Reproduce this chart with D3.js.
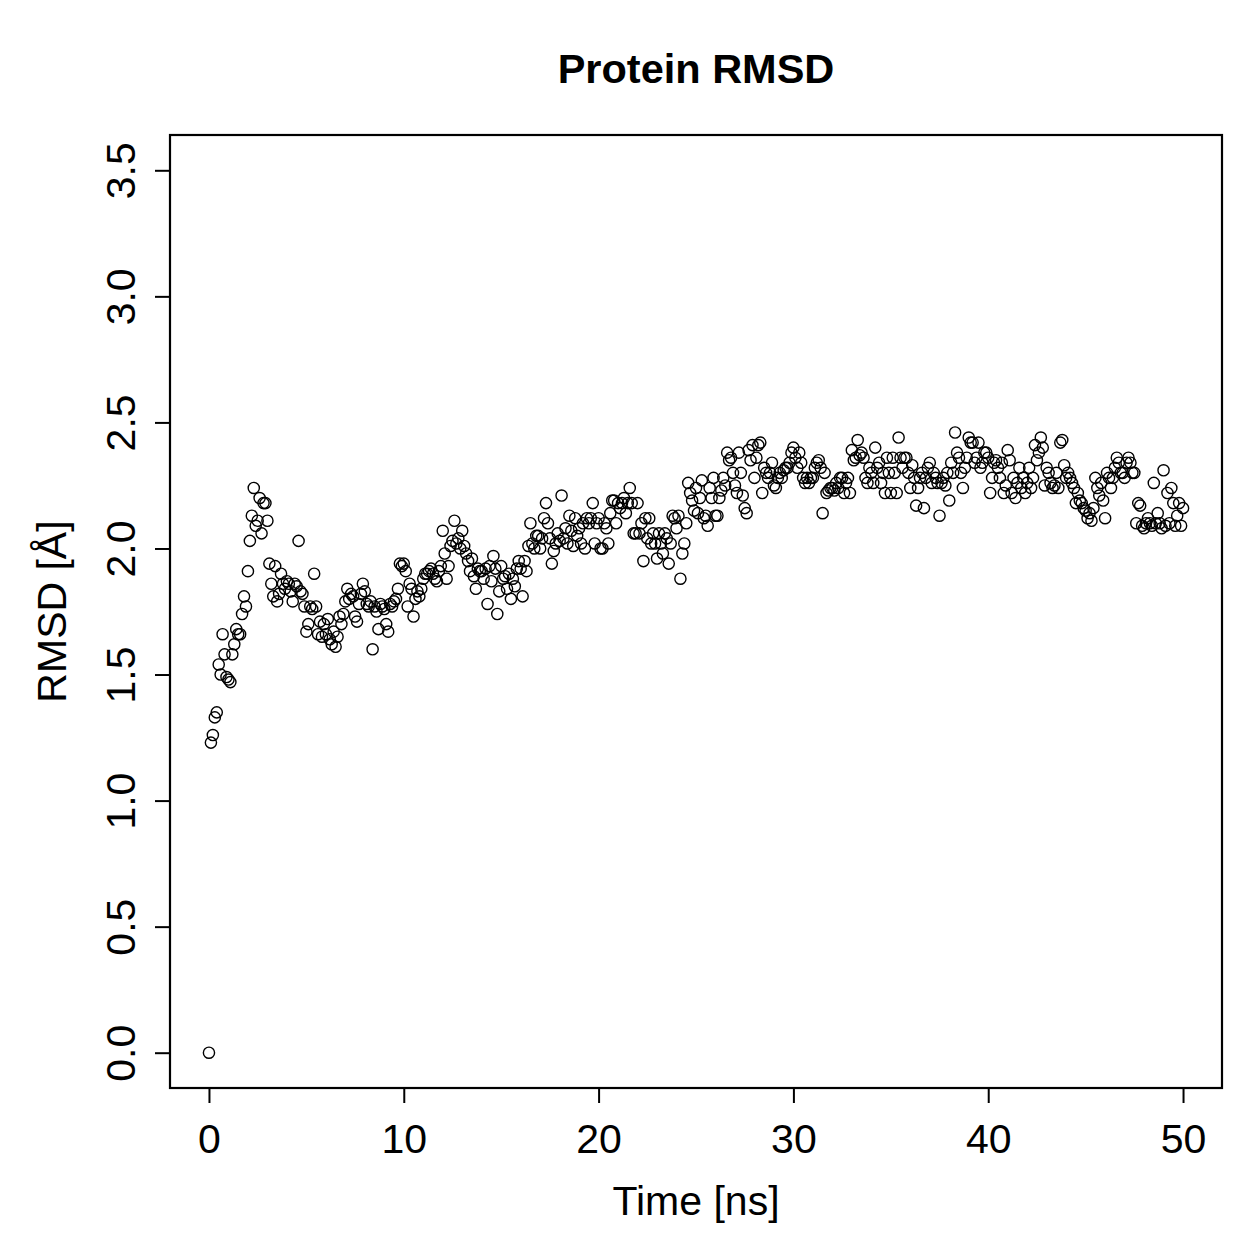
<!DOCTYPE html>
<html>
<head>
<meta charset="utf-8">
<script src="https://cdn.jsdelivr.net/npm/d3@7"></script>
<style>
  html, body { margin: 0; padding: 0; background: #ffffff; }
  svg { display: block; font-family: "Liberation Sans", Arial, Helvetica, sans-serif; }
</style>
</head>
<body>
<svg id="chart" width="1259" height="1259"></svg>
<script>
// ---- data ----
const chartTitle = "Protein RMSD";
const xLabel = "Time [ns]";
const yLabel = "RMSD [Å]";
const timeStart = 0;      // ns
const timeStep = 0.1;     // ns between frames
const xTicks = [0, 10, 20, 30, 40, 50];
const yTicks = [0.0, 0.5, 1.0, 1.5, 2.0, 2.5, 3.0, 3.5];
const yTickLabels = ["0.0", "0.5", "1.0", "1.5", "2.0", "2.5", "3.0", "3.5"];
const rmsd = [
  0.00, 1.23, 1.26, 1.33, 1.35, 1.54, 1.50, 1.66, 1.58, 1.49,
  1.48, 1.47, 1.58, 1.62, 1.68, 1.66, 1.66, 1.74, 1.81, 1.77,
  1.91, 2.03, 2.13, 2.24, 2.09, 2.11, 2.20, 2.06, 2.18, 2.18,
  2.11, 1.94, 1.86, 1.81, 1.93, 1.79, 1.82, 1.90, 1.86, 1.84,
  1.87, 1.86, 1.83, 1.79, 1.86, 1.85, 2.03, 1.83, 1.82, 1.77,
  1.67, 1.70, 1.77, 1.76, 1.90, 1.77, 1.66, 1.71, 1.65, 1.70,
  1.66, 1.72, 1.64, 1.62, 1.67, 1.61, 1.65, 1.73, 1.70, 1.74,
  1.79, 1.84, 1.80, 1.82, 1.81, 1.73, 1.71, 1.78, 1.82, 1.86,
  1.83, 1.78, 1.77, 1.79, 1.60, 1.77, 1.75, 1.68, 1.78, 1.77,
  1.76, 1.70, 1.67, 1.78, 1.77, 1.79, 1.80, 1.84, 1.94, 1.93,
  1.94, 1.91, 1.77, 1.86, 1.84, 1.73, 1.80, 1.83, 1.81, 1.84,
  1.88, 1.90, 1.90, 1.91, 1.92, 1.90, 1.88, 1.87, 1.91, 1.93,
  2.07, 1.98, 1.88, 1.93, 2.01, 2.03, 2.11, 2.02, 2.04, 2.00,
  2.07, 2.01, 1.98, 1.95, 1.91, 1.96, 1.89, 1.84, 1.92, 1.91,
  1.91, 1.88, 1.92, 1.78, 1.93, 1.87, 1.97, 1.92, 1.74, 1.83,
  1.93, 1.88, 1.89, 1.84, 1.90, 1.80, 1.88, 1.85, 1.92, 1.95,
  1.92, 1.81, 1.95, 1.91, 2.01, 2.10, 2.02, 2.00, 2.05, 2.05,
  2.00, 2.04, 2.12, 2.18, 2.10, 2.04, 1.94, 1.99, 2.02, 2.06,
  2.03, 2.21, 2.04, 2.08, 2.02, 2.13, 2.07, 2.01, 2.12, 2.05,
  2.08, 2.02, 2.10, 2.00, 2.12, 2.10, 2.12, 2.18, 2.02, 2.10,
  2.12, 2.00, 2.00, 2.10, 2.08, 2.02, 2.14, 2.19, 2.19, 2.10,
  2.18, 2.16, 2.18, 2.20, 2.14, 2.18, 2.24, 2.18, 2.06, 2.06,
  2.18, 2.06, 2.10, 1.95, 2.12, 2.04, 2.12, 2.02, 2.06, 2.02,
  1.96, 2.06, 2.02, 1.98, 2.06, 2.04, 1.94, 2.02, 2.13, 2.12,
  2.08, 2.13, 1.88, 1.98, 2.02, 2.10, 2.26, 2.22, 2.19, 2.15,
  2.24, 2.14, 2.20, 2.27, 2.12, 2.13, 2.09, 2.24, 2.20, 2.28,
  2.13, 2.13, 2.20, 2.23, 2.28, 2.25, 2.38, 2.35, 2.36, 2.30,
  2.25, 2.22, 2.38, 2.30, 2.21, 2.16, 2.14, 2.39, 2.35, 2.41,
  2.28, 2.36, 2.41, 2.42, 2.22, 2.32, 2.30, 2.28, 2.30, 2.34,
  2.25, 2.24, 2.28, 2.30, 2.28, 2.31, 2.32, 2.32, 2.34, 2.38,
  2.40, 2.36, 2.32, 2.38, 2.34, 2.28, 2.26, 2.28, 2.26, 2.28,
  2.28, 2.32, 2.34, 2.35, 2.32, 2.14, 2.30, 2.22, 2.23, 2.24,
  2.24, 2.23, 2.26, 2.24, 2.28, 2.28, 2.22, 2.26, 2.28, 2.22,
  2.39, 2.35, 2.36, 2.43, 2.37, 2.38, 2.36, 2.28, 2.26, 2.32,
  2.30, 2.26, 2.40, 2.32, 2.34, 2.26, 2.30, 2.22, 2.36, 2.30,
  2.22, 2.36, 2.30, 2.22, 2.44, 2.36, 2.32, 2.36, 2.36, 2.30,
  2.24, 2.33, 2.28, 2.17, 2.24, 2.28, 2.30, 2.16, 2.28, 2.32,
  2.34, 2.26, 2.30, 2.28, 2.26, 2.13, 2.26, 2.28, 2.25, 2.30,
  2.19, 2.34, 2.30, 2.46, 2.38, 2.36, 2.30, 2.24, 2.32, 2.36,
  2.44, 2.42, 2.42, 2.34, 2.36, 2.42, 2.32, 2.34, 2.38, 2.38,
  2.36, 2.22, 2.28, 2.34, 2.35, 2.32, 2.28, 2.34, 2.22, 2.25,
  2.39, 2.35, 2.22, 2.28, 2.20, 2.26, 2.32, 2.24, 2.28, 2.22,
  2.26, 2.32, 2.24, 2.28, 2.41, 2.35, 2.38, 2.44, 2.40, 2.25,
  2.32, 2.30, 2.26, 2.24, 2.25, 2.30, 2.24, 2.42, 2.43, 2.33,
  2.28, 2.30, 2.28, 2.26, 2.24, 2.18, 2.22, 2.19, 2.18, 2.16,
  2.15, 2.12, 2.14, 2.11, 2.16, 2.28, 2.24, 2.21, 2.26, 2.19,
  2.12, 2.30, 2.28, 2.24, 2.28, 2.32, 2.36, 2.34, 2.30, 2.30,
  2.28, 2.34, 2.36, 2.34, 2.30, 2.30, 2.10, 2.18, 2.17, 2.09,
  2.08, 2.10, 2.12, 2.10, 2.09, 2.26, 2.10, 2.14, 2.10, 2.08,
  2.31, 2.09, 2.22, 2.10, 2.24, 2.18, 2.09, 2.13, 2.18, 2.09,
  2.16
];

// ---- layout ----
const W = 1259, H = 1259;
const plot = { left: 170, right: 1222, top: 135, bottom: 1088 };
const axisFont = 41, titleFont = 41.5;

const svg = d3.select("#chart");
svg.append("rect").attr("width", W).attr("height", H).attr("fill", "#fff");

const data = rmsd.map((v, i) => ({ t: timeStart + i * timeStep, v }));

// R-style 4% range extension
const xDom = [0, 50], yDom = [0, 3.5];
const xPad = (xDom[1] - xDom[0]) * 0.04, yPad = (yDom[1] - yDom[0]) * 0.04;
const x = d3.scaleLinear().domain([xDom[0] - xPad, xDom[1] + xPad]).range([plot.left, plot.right]);
const y = d3.scaleLinear().domain([yDom[0] - yPad, yDom[1] + yPad]).range([plot.bottom, plot.top]);

// points
svg.append("g")
  .selectAll("circle")
  .data(data)
  .join("circle")
  .attr("cx", d => x(d.t))
  .attr("cy", d => y(d.v))
  .attr("r", 5.6)
  .attr("fill", "none")
  .attr("stroke", "#000")
  .attr("stroke-width", 1.4);

// x axis
const xAxis = svg.append("g")
  .attr("transform", `translate(0,${plot.bottom})`)
  .call(d3.axisBottom(x).tickValues(xTicks).tickFormat(d3.format("d")).tickSize(15).tickPadding(21));
xAxis.select(".domain").remove();
xAxis.selectAll("line").attr("stroke", "#000").attr("stroke-width", 2);
xAxis.selectAll("text").attr("font-size", axisFont).attr("fill", "#000")
  .attr("font-family", "Liberation Sans, Arial, sans-serif");

// y axis
const yAxis = svg.append("g")
  .attr("transform", `translate(${plot.left},0)`)
  .call(d3.axisLeft(y).tickValues(yTicks).tickFormat((d, i) => yTickLabels[i]).tickSize(15));
yAxis.select(".domain").remove();
yAxis.selectAll("line").attr("stroke", "#000").attr("stroke-width", 2);
yAxis.selectAll("text")
  .attr("font-size", axisFont).attr("fill", "#000")
  .attr("font-family", "Liberation Sans, Arial, sans-serif")
  .attr("transform", "rotate(-90)")
  .attr("x", 0).attr("y", -35).attr("dy", 0)
  .attr("text-anchor", "middle");

// box
svg.append("rect")
  .attr("x", plot.left).attr("y", plot.top)
  .attr("width", plot.right - plot.left).attr("height", plot.bottom - plot.top)
  .attr("fill", "none").attr("stroke", "#000").attr("stroke-width", 2.2);

// title & labels
svg.append("text")
  .attr("x", (plot.left + plot.right) / 2).attr("y", 83)
  .attr("text-anchor", "middle").attr("font-weight", "bold")
  .attr("font-size", titleFont).text(chartTitle);

svg.append("text")
  .attr("x", (plot.left + plot.right) / 2).attr("y", 1215)
  .attr("text-anchor", "middle").attr("font-size", axisFont).text(xLabel);

svg.append("text")
  .attr("transform", `translate(66,${(plot.top + plot.bottom) / 2}) rotate(-90)`)
  .attr("text-anchor", "middle").attr("font-size", axisFont).text(yLabel);
</script>
</body>
</html>
